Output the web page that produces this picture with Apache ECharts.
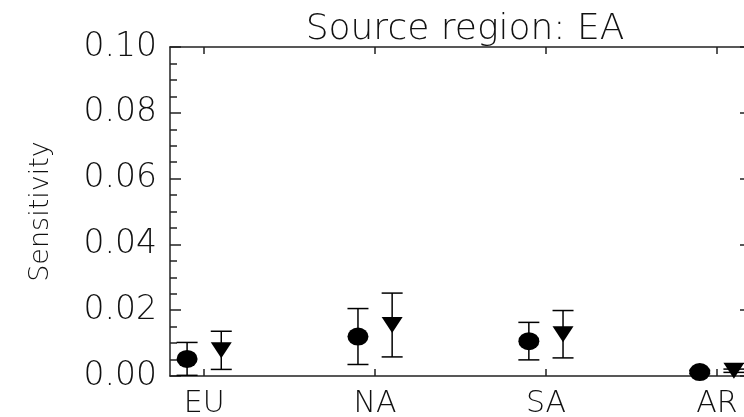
<!DOCTYPE html>
<html>
<head>
<meta charset="utf-8">
<script src="https://cdn.jsdelivr.net/npm/echarts@6/dist/echarts.min.js"></script>
<style>html,body{margin:0;padding:0;background:#fff;}#chart{width:744px;height:417px;}</style>
</head>
<body>
<div id="chart"></div>
<script>
const categories = ['EU', 'NA', 'SA', 'AR'];
const categoryPositions = [1, 2, 3, 4];
const circleValues = [0.0052, 0.0120, 0.0106, 0.0012];
const circleErrors = [0.0050, 0.0085, 0.0057, 0.0005];
const triangleValues = [0.0078, 0.0155, 0.0127, 0.0016];
const triangleErrors = [0.0058, 0.0097, 0.0072, 0.0005];
const yTicks = [0, 0.02, 0.04, 0.06, 0.08, 0.10];

const OFFSET = 0.1;
const FONT = 'DejaVu Sans';
const circleData = circleValues.map((v, i) => [categoryPositions[i] - OFFSET, v]);
const triangleData = triangleValues.map((v, i) => [categoryPositions[i] + OFFSET, v]);
const circleErrData = circleValues.map((v, i) => [categoryPositions[i] - OFFSET, v - circleErrors[i], v + circleErrors[i]]);
const triangleErrData = triangleValues.map((v, i) => [categoryPositions[i] + OFFSET, v - triangleErrors[i], v + triangleErrors[i]]);

function errRender(params, api) {
  const x = api.value(0);
  const lo = api.coord([x, api.value(1)]);
  const hi = api.coord([x, api.value(2)]);
  const hw = 10.5;
  const style = { stroke: '#000', lineWidth: 1.5 };
  return {
    type: 'group',
    children: [
      { type: 'line', shape: { x1: lo[0], y1: lo[1], x2: hi[0], y2: hi[1] }, style },
      { type: 'line', shape: { x1: hi[0] - hw, y1: hi[1], x2: hi[0] + hw, y2: hi[1] }, style },
      { type: 'line', shape: { x1: lo[0] - hw, y1: lo[1], x2: lo[0] + hw, y2: lo[1] }, style }
    ]
  };
}

const chart = echarts.init(document.getElementById('chart'), null, { renderer: 'canvas' });
const axisLine = { show: true, onZero: false, lineStyle: { color: '#222', width: 1.5 } };
const tickStyle = { color: '#222', width: 1.5 };
chart.setOption({
  animation: false,
  title: {
    text: 'Source region: EA',
    left: 460, top: 7, textAlign: 'center',
    textStyle: { fontFamily: FONT, fontWeight: 200, fontSize: 36, color: '#111' }
  },
  grid: { left: 170, right: -7, top: 47, bottom: 41, containLabel: false, outerBoundsMode: 'none' },
  xAxis: [
    {
      type: 'value', min: 0.8, max: 4.2, position: 'bottom',
      axisLine, splitLine: { show: false },
      axisTick: { show: true, inside: true, length: 7, customValues: categoryPositions, lineStyle: tickStyle },
      axisLabel: {
        show: true, customValues: categoryPositions, margin: 13,
        formatter: v => categories[categoryPositions.indexOf(v)] || '',
        fontFamily: FONT, fontWeight: 200, fontSize: 30, color: '#111'
      }
    },
    {
      type: 'value', min: 0.8, max: 4.2, position: 'top',
      axisLine, splitLine: { show: false },
      axisTick: { show: true, inside: true, length: 7, customValues: categoryPositions, lineStyle: tickStyle },
      axisLabel: { show: false }
    }
  ],
  yAxis: [
    {
      type: 'value', min: 0, max: 0.1, interval: 0.02, position: 'left',
      name: 'Sensitivity', nameLocation: 'middle', nameGap: 116,
      nameTextStyle: { fontFamily: FONT, fontWeight: 200, fontSize: 27, color: '#111' },
      axisLine, splitLine: { show: false },
      axisTick: { show: true, inside: true, length: 11, lineStyle: tickStyle },
      minorTick: { show: true, splitNumber: 4, length: 7, lineStyle: tickStyle },
      axisLabel: {
        margin: 13, formatter: v => v.toFixed(2),
        fontFamily: FONT, fontWeight: 200, fontSize: 33, color: '#111'
      }
    },
    {
      type: 'value', min: 0, max: 0.1, interval: 0.02, position: 'right',
      axisLine, splitLine: { show: false },
      axisTick: { show: true, inside: true, length: 11, lineStyle: tickStyle },
      minorTick: { show: true, splitNumber: 4, length: 7, lineStyle: tickStyle },
      axisLabel: { show: false }
    }
  ],
  series: [
    { type: 'custom', renderItem: errRender, data: circleErrData, encode: { x: 0, y: [1, 2] }, clip: true, z: 2 },
    { type: 'custom', renderItem: errRender, data: triangleErrData, encode: { x: 0, y: [1, 2] }, clip: true, z: 2 },
    { type: 'scatter', data: circleData, symbol: 'circle', symbolSize: [21, 18], itemStyle: { color: '#000', opacity: 1 }, clip: true, z: 3 },
    { type: 'scatter', data: triangleData, symbol: 'triangle', symbolRotate: 180, symbolSize: [21, 16], itemStyle: { color: '#000', opacity: 1 }, clip: true, z: 3 }
  ]
});
</script>
</body>
</html>
